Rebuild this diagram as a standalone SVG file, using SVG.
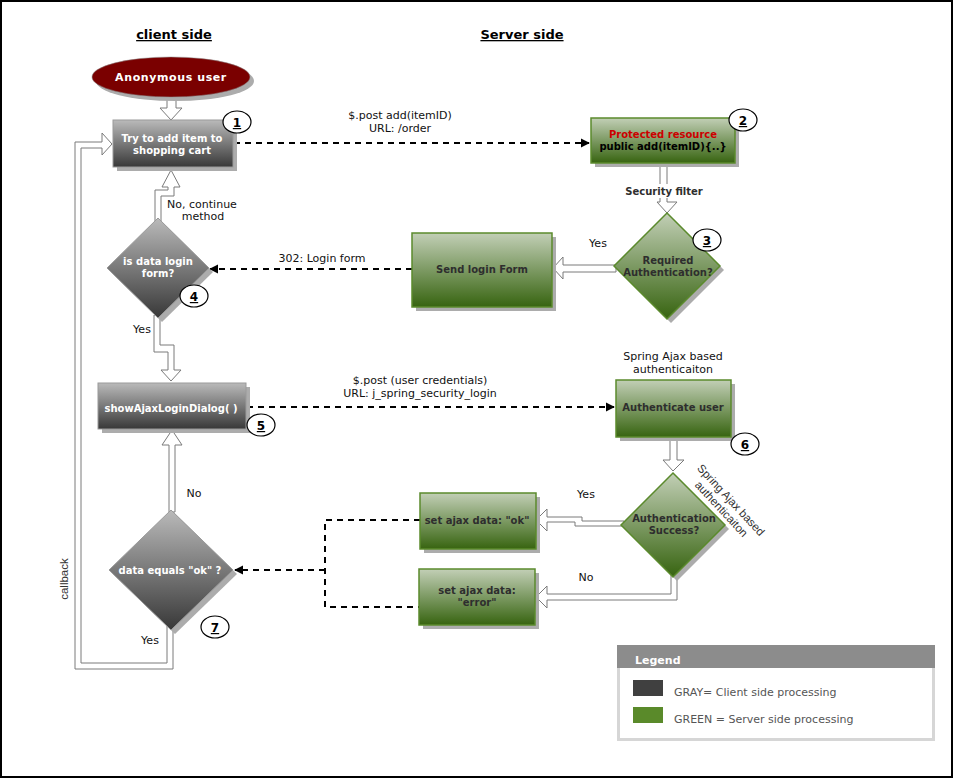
<svg xmlns="http://www.w3.org/2000/svg" width="954" height="779" viewBox="0 0 954 779">
<defs>
<linearGradient id="gGray" x1="0" y1="0" x2="0" y2="1"><stop offset="0" stop-color="#bababa"/><stop offset="1" stop-color="#383838"/></linearGradient>
<linearGradient id="gGreen" x1="0" y1="0" x2="0" y2="1"><stop offset="0" stop-color="#c2cfb6"/><stop offset="1" stop-color="#376410"/></linearGradient>
<marker id="ah" viewBox="0 0 10 10" refX="9" refY="5" markerWidth="9" markerHeight="10" markerUnits="userSpaceOnUse" orient="auto"><path d="M0,0 L10,5 L0,10 z" fill="#000"/></marker>
</defs>
<style>
.shadow{fill:#acacac}
.gbox{fill:url(#gGray);stroke:#9a9a9a;stroke-width:1}
.grbox{fill:url(#gGreen);stroke:#5b8a2d;stroke-width:1.5}
.block{fill:#fff;stroke:#7a7a7a;stroke-width:1}
.dot{fill:none;stroke:#000;stroke-width:2;stroke-dasharray:6 5}
.wt{font-family:"DejaVu Sans",Verdana,sans-serif;font-size:10px;font-weight:bold;fill:#fff;text-anchor:middle}
.dt{font-family:"DejaVu Sans",Verdana,sans-serif;font-size:10px;font-weight:bold;fill:#2e2e2e;text-anchor:middle}
.lb{font-family:"DejaVu Sans",Verdana,sans-serif;font-size:11px;fill:#111;text-anchor:middle}
.hd{font-family:"DejaVu Sans",Verdana,sans-serif;font-size:13px;font-weight:bold;fill:#000;text-anchor:middle;text-decoration:underline}
.num{font-family:"DejaVu Sans",Verdana,sans-serif;font-size:12px;font-weight:bold;fill:#000;text-anchor:middle;text-decoration:underline}
.badge{fill:#fff;stroke:#000;stroke-width:1.2}
.ar{font-family:"Liberation Sans",Arial,sans-serif;font-size:11.5px;fill:#333;text-anchor:middle}
</style>
<rect x="1" y="1" width="951" height="776" fill="#fff" stroke="#000" stroke-width="2"/>
<text class="hd" x="174" y="39">client side</text>
<text class="hd" x="522" y="39">Server side</text>

<g id="connectors">
<polygon class="block" points="167,96 167,108 160,108 171,120 182,108 176,108 176,96"/>
<polygon class="block" points="155,222 155,190 168,190 168,187 162,187 171,170 180,187 174,187 174,196 161,196 161,222"/>
<polygon class="block" points="154,315 154,352 168,352 168,370 161,370 171,381 181,370 174,370 174,345 160,345 160,315"/>
<polygon class="block" points="660,162 660,202 657,202 667,213 677,202 667,202 667,162"/>
<polygon class="block" points="616,265 563,265 563,257 553,268 563,279 563,272 616,272"/>
<polygon class="block" points="670,436 670,460 663,460 673,471 684,460 677,460 677,436"/>
<polygon class="block" points="624,521 582,521 582,517 547,517 547,509 536,520 547,531 547,522 575,522 575,526 624,526"/>
<polygon class="block" points="671,575 671,594 547,594 547,586 536,597 547,608 547,600 677,600 677,575"/>
<polygon class="block" points="169,512 169,445 162,445 172,430 182,445 175,445 175,512"/>
<polygon class="block" points="167,626 167,663 81,663 81,148 102,148 102,155 112,144 102,133 102,142 75,142 75,669 173,669 173,626"/>
<path class="dot" d="M234,143 H589" marker-end="url(#ah)"/>
<path class="dot" d="M412,269 H210" marker-end="url(#ah)"/>
<path class="dot" d="M247,407 H614" marker-end="url(#ah)"/>
<path class="dot" d="M420,520 H325 V607 H419"/>
<path class="dot" d="M325,570 H235" marker-end="url(#ah)"/>
<rect x="620" y="184" width="90" height="14" fill="#fff"/>
<text x="664" y="195" class="dt" fill="#333">Security filter</text>
<text class="lb" x="400" y="119">$.post add(itemID)</text>
<text class="lb" x="400" y="132">URL: /order</text>
<text class="lb" x="322" y="262">302: Login form</text>
<text class="lb" x="598" y="247">Yes</text>
<text class="lb" x="202" y="208">No, continue</text>
<text class="lb" x="203" y="220">method</text>
<text class="lb" x="142" y="333">Yes</text>
<text class="lb" x="420" y="384">$.post (user credentials)</text>
<text class="lb" x="420" y="397">URL: j_spring_security_login</text>
<text class="lb" x="586" y="498">Yes</text>
<text class="lb" x="586" y="581">No</text>
<text class="lb" x="194" y="497">No</text>
<text class="lb" x="150" y="644">Yes</text>
<text class="ar" transform="translate(68,579) rotate(-90)" fill="#555">callback</text>
</g>

<g id="anon">
<ellipse class="shadow" cx="175" cy="81" rx="79" ry="20"/>
<ellipse cx="171" cy="77" rx="79" ry="20" fill="#7a0000" stroke="#8a8a8a" stroke-width="0.5"/>
<text class="wt" x="171" y="81" style="font-size:11px;letter-spacing:0.6px">Anonymous user</text>
</g>

<g id="n1">
<rect class="shadow" x="117" y="124" width="120" height="47"/>
<rect class="gbox" x="113" y="120" width="120" height="47"/>
<text class="wt" x="172" y="142">Try to add item to</text>
<text class="wt" x="172" y="154">shopping cart</text>
<ellipse class="badge" cx="237" cy="122" rx="14" ry="11"/>
<text class="num" x="237" y="127">1</text>
</g>

<g id="n2">
<rect class="shadow" x="595" y="122" width="144" height="45"/>
<rect class="grbox" x="591" y="118" width="144" height="45"/>
<text class="dt" x="663" y="138" style="fill:#cc0000">Protected resource</text>
<text class="dt" x="663" y="150" style="fill:#000">public add(itemID){..}</text>
<ellipse class="badge" cx="743" cy="120" rx="14" ry="11"/>
<text class="num" x="743" y="125">2</text>
</g>

<g id="n3">
<polygon class="shadow" points="671,217 724,270 671,323 618,270"/>
<polygon class="grbox" points="667,213 720,266 667,319 614,266"/>
<text class="dt" x="668" y="264">Required</text>
<text class="dt" x="668" y="276">Authentication?</text>
<ellipse class="badge" cx="707" cy="240" rx="14" ry="11"/>
<text class="num" x="707" y="245">3</text>
</g>

<g id="sendlogin">
<rect class="shadow" x="416" y="237" width="140" height="74"/>
<rect class="grbox" x="412" y="233" width="140" height="74"/>
<text class="dt" x="482" y="273">Send login Form</text>
</g>

<g id="n4">
<polygon class="shadow" points="162,222 213,272 162,322 111,272"/>
<polygon class="gbox" points="158,218 209,268 158,318 107,268"/>
<text class="wt" x="158" y="265">is data login</text>
<text class="wt" x="158" y="277">form?</text>
<ellipse class="badge" cx="194" cy="296" rx="14" ry="11"/>
<text class="num" x="194" y="301">4</text>
</g>

<g id="n5">
<rect class="shadow" x="102" y="387" width="148" height="46"/>
<rect class="gbox" x="98" y="383" width="148" height="46"/>
<text class="wt" x="171" y="412">showAjaxLoginDialog( )</text>
<ellipse class="badge" cx="261" cy="425" rx="14" ry="11"/>
<text class="num" x="261" y="430">5</text>
</g>

<g id="n6">
<text class="lb" x="673" y="360">Spring Ajax based</text>
<text class="lb" x="673" y="373">authenticaiton</text>
<rect class="shadow" x="620" y="384" width="115" height="57"/>
<rect class="grbox" x="616" y="380" width="115" height="57"/>
<text class="dt" x="673" y="411">Authenticate user</text>
<ellipse class="badge" cx="745" cy="444" rx="14" ry="11"/>
<text class="num" x="745" y="449">6</text>
</g>

<g id="success">
<polygon class="shadow" points="677,477 729,529 677,581 625,529"/>
<polygon class="grbox" points="673,473 725,525 673,577 621,525"/>
<text class="dt" x="674" y="522">Authentication</text>
<text class="dt" x="674" y="534">Success?</text>
<g transform="translate(731,500) rotate(47)">
<text class="ar" x="0" y="4">Spring Ajax based</text>
<text class="ar" x="0" y="17">authenticaiton</text>
</g>
</g>

<g id="setok">
<rect class="shadow" x="424" y="497" width="116" height="56"/>
<rect class="grbox" x="420" y="493" width="116" height="56"/>
<text class="dt" x="477" y="524">set ajax data: "ok"</text>
</g>

<g id="seterror">
<rect class="shadow" x="423" y="573" width="116" height="56"/>
<rect class="grbox" x="419" y="569" width="116" height="56"/>
<text class="dt" x="477" y="594">set ajax data:</text>
<text class="dt" x="477" y="606">"error"</text>
</g>

<g id="n7">
<polygon class="shadow" points="175,514 237,574 175,634 113,574"/>
<polygon class="gbox" points="171,510 233,570 171,630 109,570"/>
<text class="wt" x="170" y="574">data equals "ok" ?</text>
<ellipse class="badge" cx="215" cy="627" rx="14" ry="11"/>
<text class="num" x="215" y="632">7</text>
</g>

<g id="legend">
<rect x="618.5" y="646.5" width="315" height="93" fill="#fff" stroke="#d6d6d6" stroke-width="3"/>
<rect x="617" y="645" width="318" height="23" fill="#8c8c8c"/>
<text x="635" y="664" font-family="DejaVu Sans, Verdana, sans-serif" font-size="11" font-weight="bold" fill="#fff">Legend</text>
<rect x="633" y="680" width="30" height="16" fill="#404040"/>
<rect x="633" y="707" width="30" height="16" fill="#5a8a2a"/>
<text x="674" y="696" font-family="DejaVu Sans, Verdana, sans-serif" font-size="11" fill="#555">GRAY= Client side processing</text>
<text x="674" y="723" font-family="DejaVu Sans, Verdana, sans-serif" font-size="11" fill="#555">GREEN = Server side processing</text>
</g>
</svg>
